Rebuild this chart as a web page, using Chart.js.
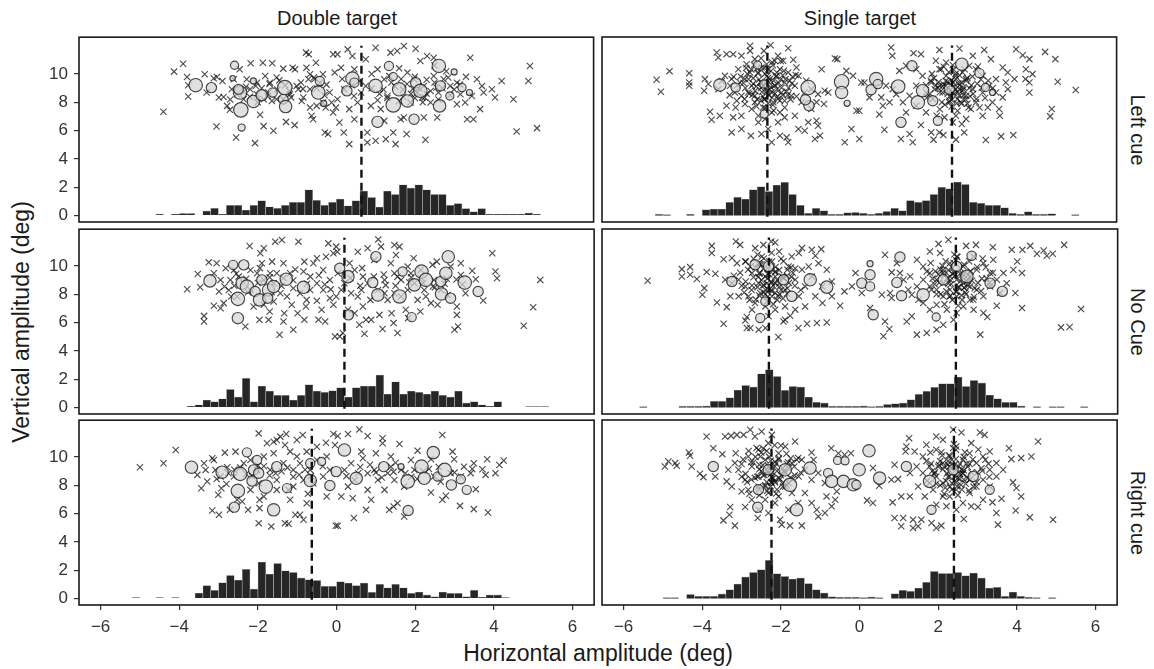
<!DOCTYPE html>
<html>
<head>
<meta charset="utf-8">
<script src="https://cdn.jsdelivr.net/npm/chart.js@4.4.0/dist/chart.umd.min.js"></script>
<style>
  html, body { margin: 0; padding: 0; background: #fff; }
  body { width: 1154px; height: 669px; position: relative; overflow: hidden;
         font-family: "Liberation Sans", Arial, Helvetica, sans-serif; color: #1a1a1a; }
  canvas { position: absolute; }
  .lab { position: absolute; white-space: nowrap; transform: translate(-50%, -50%); }
  .strip { font-size: 20px; }
  .axt { font-size: 23px; }
  .cw { transform: translate(-50%, -50%) rotate(90deg); }
  .ccw { transform: translate(-50%, -50%) rotate(-90deg); }
</style>
</head>
<body>

<div class="lab strip" style="left:337px; top:18px;">Double target</div>
<div class="lab strip" style="left:860px; top:18px;">Single target</div>
<div class="lab strip cw" style="left:1137px; top:130px;">Left cue</div>
<div class="lab strip cw" style="left:1137px; top:322px;">No Cue</div>
<div class="lab strip cw" style="left:1137px; top:513px;">Right cue</div>
<div class="lab axt ccw" style="left:21px; top:322px;">Vertical amplitude (deg)</div>
<div class="lab axt" style="left:598px; top:653px;">Horizontal amplitude (deg)</div>

<script>
// ---- axis ticks ----
const xTickVals = [-6, -4, -2, 0, 2, 4, 6];
const yTickVals = [0, 2, 4, 6, 8, 10];

// ---- histogram counts (scaled), 0.2-deg bins starting at -6 ----
const HIST_START = -6, BIN = 0.2;
const histDoubleLeft = [0,0,0,0,0,0,0,.1,0,.1, .16,.16,0,.33,.52,.1,.73,.73,.4,.73,
  1.06,.63,.52,.73,.94,.94,1.83,1.08,.73,.94, 1.17,.7,1.06,1.74,1.29,.61,1.74,1.5,2.18,1.95,
  2.18,1.83,1.5,1.5,.73,.85,.5,.28,.5,.1, .1,.1,.1,.1,.19,.1,0,0,0,0];
const histSingleLeft = [0,0,0,0,.1,.08,0,0,.1,0, .42,.47,.47,.94,1.29,1.17,1.83,2.04,1.71,2.16,
  2.35,1.5,.73,.16,.52,.35,.1,.1,.21,.23, .16,.1,.16,.3,.52,.35,1.06,.94,1.06,1.5,
  2.0,1.9,2.37,2.2,.94,.87,.73,.73,.56,.16, .1,.28,.1,.1,.14,0,0,.08,0,0];
const histDoubleNone = [0,0,0,0,0,0,0,0,0,0, 0,.1,.2,.54,.42,.63,1.29,.75,2.07,.42,
  1.53,1.17,.87,.87,.54,.87,1.62,1.17,1.08,1.2, 1.41,.75,1.41,1.53,1.53,2.3,.96,1.83,.96,1.17,
  1.08,.96,1.17,.87,.75,1.17,.33,.42,.2,.1, .42,0,0,0,.08,.08,.08,0,0,0];
const histSingleNone = [0,0,.08,0,0,0,0,.1,.1,.1, .12,.45,.45,.7,1.24,1.57,1.46,2.39,2.68,2.2,
  1.22,1.5,1.46,.75,.38,.33,.1,.1,.1,.1, .12,.08,.1,.23,.28,.33,.56,.94,1.15,1.43,
  1.69,1.69,2.16,1.5,1.92,1.74,.89,.63,.38,.38, .12,0,.08,0,.08,.08,0,0,.08,0];
const histDoubleRight = [0,0,0,0,.08,0,0,.08,0,.08, 0,0,.4,.92,.59,1.13,1.64,1.31,2.07,.68,
  2.58,1.74,2.49,1.97,1.85,1.46,1.34,1.29,.87,.87, 1.2,1.1,.92,1.1,.45,1.01,.77,1.01,.77,.38,
  .47,.26,.14,.47,.38,.38,.14,.59,.1,.26, .26,.08,0,0,0,0,0,0,0,0];
const histSingleRight = [0,0,0,0,0,.08,.08,0,.3,.16, .16,.16,.33,.63,1.03,1.53,1.85,2.04,2.7,1.76,
  1.57,1.38,1.46,1.06,.63,.4,.14,.1,.1,.1, .08,.12,.08,0,.35,.59,.52,.75,1.15,1.92,
  1.78,1.78,1.85,1.62,1.81,1.46,.75,.8,.16,.47, .16,.1,.08,0,.08,0,0,0,0,0];

// ---- target positions (dashed markers) ----
const markDoubleLeft = [0.64];
const markSingleLeft = [-2.34, 2.36];
const markDoubleNone = [0.2];
const markSingleNone = [-2.31, 2.44];
const markDoubleRight = [-0.63];
const markSingleRight = [-2.24, 2.4];

// ---- individual saccade endpoints [x, y] ----
const crossDoubleLeft = [[-4.40,7.33],[-4.13,10.17],[-3.90,10.73],[-3.80,9.79],[-3.77,9.21],[-3.77,8.41],[-3.35,9.98],[-3.12,9.70],[-3.04,9.79],[-3.05,6.29],[-2.99,8.34],[-2.87,8.38],[-2.78,7.75],[-2.71,7.47],[-2.55,5.52],[-2.46,10.33],[-2.18,10.76],[-1.87,10.8],[-1.63,10.76],[-1.94,7.12],[-2.07,5.12],[-1.85,6.32],[-1.60,5.99],[-1.28,6.62],[-1.06,6.39],[-1.35,10.38],[-1.11,10.45],[-1.05,10.33],[-0.77,11.51],[-0.70,11.39],[-0.52,10.8],[-0.76,10.45],[-0.67,9.98],[-0.57,9.75],[-0.34,9.98],[-0.08,11.39],[-0.04,10.1],[-1.81,9.86],[-1.69,9.39],[-1.52,9.75],[-1.64,8.10],[-1.52,8.22],[-1.01,9.16],[-0.97,8.92],[-0.84,8.34],[-0.88,8.1],[-0.67,7.63],[-0.63,7.05],[-0.59,6.81],[-0.50,7.75],[-0.29,5.87],[-0.21,5.76],[-0.27,7.63],[-0.12,7.99],[-0.08,7.28],[-2.61,9.63],[-2.66,8.92],[-2.53,8.57],[-2.36,8.22],[-2.19,8.92],[-2.02,8.57],[-1.85,8.22],[-1.73,8.69],[-2.02,9.39],[-2.28,9.63],[-1.35,8.22],[-1.18,8.57],[-0.67,8.92],[-0.42,9.39],[-0.17,8.69],[-0.71,9.63],[-0.34,7.99],
  [0.29,11.74],[0.03,11.39],[0.41,11.27],[0.46,10.33],[0.12,10.45],[0.03,8.22],[0.08,6.58],[0.19,5.87],[0.33,5.05],[0.46,6.81],[0.33,7.52],[0.75,11.04],[1.0,11.86],[0.79,5.87],[0.79,5.17],[1.0,5.29],[1.26,5.40],[1.51,5.05],[1.45,5.87],[1.79,5.76],[2.27,5.36],[1.38,11.51],[1.55,11.63],[1.72,11.98],[2.02,11.79],[2.14,10.92],[2.31,11.27],[2.48,11.15],[3.41,11.15],[3.58,9.63],[3.71,9.16],[3.96,8.92],[4.21,9.51],[4.04,8.34],[3.75,8.69],[3.66,7.52],[3.33,6.81],[3.49,6.81],[3.28,7.99],[3.07,7.87],[4.51,8.22],[4.93,10.57],[4.89,9.51],[4.59,5.94],[5.11,6.18],[0.88,7.75],[1.13,7.52],[1.30,8.45],[1.64,6.81],[1.72,6.93],[2.23,6.93],[2.57,6.93],[1.98,9.63],[1.81,10.1],[2.06,8.69],[2.23,9.16],[2.40,7.99],[2.73,9.63],[2.90,9.16],[3.07,9.39],[3.16,8.57],[2.48,9.86],[1.22,9.63],[1.05,10.33],[0.63,8.69],[0.54,7.99],[0.20,8.92],[-0.01,7.63],[1.6,8.1],[1.89,7.99],[2.19,8.34],[1.22,6.69],
  [0.6,9.5],[0.9,9.0],[1.4,9.4],[1.7,8.9],[2.0,8.3],[2.3,8.6],[2.6,8.2],[2.9,8.5],[1.1,8.6],[0.4,9.2],[2.5,10.6],[2.8,10.2],[1.6,10.4],[0.9,10.0],[3.3,9.8],[-0.3,8.5],[-1.3,9.2],[-2.3,9.1],[-2.9,9.5],[-3.3,8.7],
  [1.2,8.9],[1.5,9.1],[1.8,9.3],[2.1,9.0],[2.4,8.8],[2.7,9.0],[1.9,8.6],[2.2,8.0],[2.5,9.4],[1.3,8.3],[2.0,9.8],[2.6,8.7],[3.0,8.9],[1.7,8.4],[2.3,9.6],[-2.5,8.7],[-2.2,8.4],[-1.9,9.0],[-1.5,8.9],[-1.2,8.8],[-2.7,8.2],[-2.0,8.0],[-1.7,9.3],[-0.9,9.4],[-0.5,9.0],
  [-2.35,8.75],[-2.05,9.15],[-1.75,8.45],[-1.45,9.55],[-1.15,8.35],[-0.85,8.95],[-0.55,9.65],[-0.25,9.25],[0.15,9.65],[0.45,8.45],[0.75,9.15],[1.05,8.15],[1.35,9.85],[1.65,9.65],[1.95,8.95],[2.25,8.35],[2.55,9.05],[2.85,9.75],[3.15,9.25],[3.45,8.45]];

const crossSingleLeft = [[-5.16,9.58],[-5.05,8.74],[-4.83,10.19],[-4.33,10.05],[-4.33,9.39],[-4.33,9.16],[-3.93,9.63],[-3.95,8.81],[-3.84,9.28],[-3.80,7.33],[-3.76,6.76],[-3.63,11.51],[-3.59,11.15],[-3.55,7.05],[-3.38,11.39],[-3.21,11.39],[-3.38,7.75],[-3.25,5.87],[-3.21,6.93],[-3.15,7.63],[-3.0,11.27],[-3.0,6.11],[-2.78,11.98],[-2.78,11.62],[-2.76,5.64],[-2.57,6.58],[-2.49,5.76],[-2.43,11.62],[-2.26,12.02],[-2.23,5.17],[-2.02,5.64],[-1.94,10.92],[-1.85,5.52],[-1.81,5.17],[-1.81,11.81],[-1.68,10.99],[-1.55,6.11],[-1.39,5.99],[-1.30,6.58],[-1.09,6.69],[-1.05,6.34],[-1.0,5.64],[-1.13,5.40],[-0.96,10.33],[-0.88,8.81],[-0.79,8.69],[-0.62,11.08],[-0.56,11.04],[-0.37,5.17],[-0.33,10.21],[-0.20,6.11],[-0.16,9.86],[-0.07,7.40],[-0.9,7.87],[-1.09,7.99],[-1.22,7.52],[-1.9,7.63],[-2.07,8.22],[-2.23,7.28],[-2.74,7.52],[-3.0,7.05],[-3.25,9.63],[-3.08,10.33],[-2.91,9.63],[-2.74,9.16],[-2.66,8.45],[-2.57,10.1],[-2.49,9.39],[-2.40,8.22],[-2.36,8.92],[-2.32,10.33],[-2.28,9.63],[-2.23,8.69],[-2.15,9.16],[-2.11,9.86],[-2.02,10.33],[-1.98,8.69],[-1.9,9.39],[-1.81,10.1],[-1.73,8.45],[-1.64,9.16],[-1.55,9.86],[-1.47,7.99],[-1.39,8.69],[-2.83,8.69],[-3.0,8.45],[-3.17,8.69],[-3.29,9.16],[-3.42,9.86],[-3.59,8.92],[-2.87,10.68],[-2.66,11.04],[-2.07,11.27],[-2.57,7.05],[-2.4,6.81],[-2.32,6.11],[-2.07,6.58],[-1.9,6.93],[-1.64,7.05],[-2.02,7.28],[-2.45,7.63],[-2.66,7.99],[-2.91,7.87],[-3.12,8.1],[-2.19,7.99],[-2.36,10.68],[-2.15,10.92],[-2.49,10.45],[-2.78,10.1],[-3.04,9.39],[-1.77,9.51],[-1.60,10.45],[-1.35,9.51],[-1.22,8.92],[-1.05,8.57],
  [-2.9,9.0],[-2.7,9.7],[-2.6,8.2],[-2.5,9.0],[-2.4,10.0],[-2.3,9.4],[-2.3,8.5],[-2.2,10.6],[-2.1,8.9],[-2.0,9.6],[-1.9,8.1],[-1.8,9.0],[-1.7,9.8],[-2.4,7.6],[-2.2,7.8],[-2.6,10.4],[-2.8,8.6],[-3.1,9.2],[-1.6,8.4],[-2.0,10.9],[-2.5,11.1],[-2.35,8.8],[-2.15,9.2],[-1.95,8.5],[-2.7,9.3],[-2.45,8.4],[-2.25,10.2],[-3.3,8.5],[-3.5,9.5],[-2.85,10.0],
  [-2.55,9.6],[-2.45,9.15],[-2.35,9.85],[-2.25,9.05],[-2.15,8.6],[-2.05,9.35],[-1.95,9.9],[-1.85,8.75],[-2.65,8.8],[-2.75,10.3],[-2.5,8.1],[-2.1,10.1],[-1.75,8.2],[-2.95,9.35],[-3.2,9.8],
  [-2.62,9.12],[-2.48,8.72],[-2.38,9.32],[-2.28,8.92],[-2.18,9.52],[-2.08,8.42],[-1.98,9.02],[-1.88,9.62],[-2.72,8.52],[-2.58,10.02],[-2.42,8.22],[-2.32,9.72],[-2.22,8.32],[-2.12,9.82],[-2.02,8.12],[-1.92,10.22],[-2.52,9.42],[-2.42,10.42],[-2.32,7.92],[-2.22,10.82],[-2.82,9.62],[-2.92,8.22],[-1.82,8.52],[-1.72,9.32],[-2.62,7.72],[-2.18,7.42],[-2.68,10.62],[-1.62,9.92],[-3.02,9.82],[-2.88,10.42],
  [0.05,9.39],[0.0,7.40],[0.0,5.40],[0.13,9.39],[0.26,8.34],[0.81,11.86],[0.84,11.27],[1.38,11.46],[1.57,11.39],[2.04,11.69],[2.55,11.79],[2.89,11.27],[3.18,11.69],[3.35,11.04],[3.65,10.45],[3.78,10.1],[3.95,9.63],[3.99,11.74],[4.16,11.32],[4.33,11.04],[4.24,10.33],[4.41,9.98],[4.23,9.63],[4.33,9.39],[4.33,8.69],[4.73,11.55],[4.99,11.04],[5.05,9.44],[5.51,8.86],[4.90,7.52],[4.86,7.0],[3.92,5.68],[3.61,5.59],[3.22,5.33],[3.58,7.05],[0.51,7.14],[0.60,7.75],[0.64,6.06],[1.06,5.40],[1.28,5.76],[1.36,5.17],[1.57,6.39],[1.83,5.87],[1.89,5.36],[2.04,5.87],[2.14,5.68],[2.46,5.36],[2.67,5.87],[2.61,6.46],[2.38,6.58],[2.17,6.93],[1.97,7.05],[2.46,7.05],[2.72,6.81],[2.84,7.52],[3.06,7.63],[3.27,7.63],[3.39,7.99],[3.56,7.52],[3.65,8.34],[3.78,8.92],[3.48,8.69],[3.31,9.16],[3.14,9.86],[2.97,10.33],[2.80,10.57],[2.72,9.63],[2.55,8.92],[2.38,9.39],[2.21,9.86],[2.04,10.33],[1.95,10.92],[2.21,10.8],[1.83,9.39],[1.70,8.69],[1.87,8.22],[2.12,8.69],[2.29,7.99],[2.50,8.22],[2.72,8.45],[2.89,8.92],[2.97,7.99],[3.14,8.69],[2.04,9.16],[2.21,9.16],[2.38,8.69],[2.46,9.63],[2.63,10.1],[1.61,9.86],[1.45,9.16],[1.28,8.45],[1.11,7.99],[0.94,8.57],[1.02,10.21],[1.19,10.57],[1.45,10.33],[0.85,8.92],[0.68,9.16],[0.56,8.34],[0.77,7.99],[1.19,7.28],[1.45,7.75],[1.70,7.28],[3.14,7.05],[3.48,9.63],[3.73,9.39],
  [2.0,9.0],[2.2,9.5],[2.3,8.4],[2.4,9.1],[2.5,8.7],[2.6,9.4],[2.7,8.2],[2.8,9.0],[2.1,8.0],[1.9,9.7],[2.45,10.0],[2.35,7.7],[2.55,9.9],[2.9,8.6],[3.0,9.3],[1.8,8.6],[2.65,8.9],[2.25,9.0],[2.15,10.5],[3.2,8.3],[2.5,7.4],[2.75,7.9],[1.7,9.2],[2.05,7.5],[3.4,9.0],
  [2.15,9.25],[2.25,8.6],[2.35,9.55],[2.45,8.9],[2.55,9.2],[2.65,8.5],[2.75,9.7],[2.85,9.2],[2.05,8.7],[1.95,9.2],[2.4,10.3],[2.6,7.9],[3.1,9.6],[1.85,10.0],[2.3,8.1],
  [2.12,9.12],[2.22,8.82],[2.32,9.22],[2.42,8.62],[2.52,9.32],[2.62,8.82],[2.72,9.52],[2.82,8.42],[2.02,9.42],[1.92,8.92],[2.28,10.12],[2.48,7.92],[2.68,10.32],[2.88,9.82],[2.98,8.22],[3.12,9.02],[2.18,7.82],[2.38,10.62],[1.82,9.52],[2.58,8.02],[3.28,9.52],[2.78,7.62],[2.08,10.32],[1.72,8.32],[3.02,10.52],[2.45,9.85],[2.55,8.45],[2.35,8.15],[2.65,9.05],[2.25,9.45]];

const crossDoubleNone = [[-3.80,8.36],[-3.53,9.44],[-3.47,8.50],[-3.37,6.48],[-3.37,6.08],[-3.25,10.26],[-3.05,10.19],[-3.12,7.19],[-2.95,7.02],[-2.87,7.38],[-2.99,8.20],[-2.82,9.84],[-2.74,8.31],[-2.70,9.02],[-2.68,7.85],[-2.32,5.73],[-2.21,11.41],[-1.96,6.2],[-1.94,10.9],[-1.85,11.25],[-1.73,6.2],[-1.70,6.79],[-1.64,10.31],[-1.9,10.19],[-1.56,11.72],[-1.39,11.84],[-1.45,5.15],[-1.35,6.08],[-1.33,6.67],[-1.35,10.19],[-1.10,5.50],[-0.97,11.72],[-0.99,6.67],[-0.82,6.20],[-0.82,10.31],[-0.78,7.14],[-0.76,7.61],[-0.50,7.54],[-0.46,6.2],[-0.38,6.91],[-0.29,6.08],[-0.27,10.66],[-0.21,11.6],[-0.08,10.9],[-0.04,5.03],[-0.17,7.73],[-0.08,7.26],[-0.59,10.19],[-0.5,10.55],[-0.34,9.72],[-0.67,9.25],[-0.84,9.61],[-1.18,9.49],[-1.52,9.49],[-1.60,8.78],[-1.43,8.08],[-1.26,7.85],[-1.10,8.43],[-0.93,8.08],[-0.67,8.31],[-0.5,8.78],[-0.34,8.31],[-0.17,9.02],[-2.11,7.14],[-1.85,7.26],[-1.6,7.49],[-2.19,9.72],[-2.02,9.49],[-2.49,9.25],[-2.61,9.72],[-2.36,8.78],[-2.19,8.31],[-2.53,7.85],[-2.95,9.02],[-3.12,9.49],[-1.85,9.02],[-1.69,9.49],[-1.14,7.26],
  [-0.01,11.37],[0.02,11.01],[-0.01,7.85],[0.08,5.03],[0.16,5.27],[0.33,10.19],[0.29,6.91],[0.46,6.67],[0.54,11.01],[0.54,7.85],[0.63,8.31],[0.67,7.14],[0.58,5.85],[0.71,5.22],[0.75,6.2],[0.79,11.25],[0.88,6.2],[0.86,7.61],[0.96,10.43],[1.06,11.88],[1.13,11.37],[1.09,6.55],[1.17,5.55],[1.22,9.02],[1.38,10.19],[1.40,6.67],[1.45,5.97],[1.47,11.48],[1.60,11.37],[1.51,10.78],[1.55,5.27],[1.76,6.91],[1.82,6.32],[1.96,10.55],[1.89,9.49],[2.06,7.61],[2.13,6.79],[2.27,7.85],[2.44,10.08],[2.55,10.31],[2.90,9.96],[3.16,10.19],[3.06,7.14],[3.06,6.55],[3.09,5.73],[3.0,5.5],[3.16,9.37],[3.28,8.08],[3.45,9.67],[3.54,9.07],[3.73,7.56],[3.96,10.9],[4.04,9.61],[4.08,9.14],[5.0,7.09],[4.76,5.78],[5.18,9.02],[1.98,8.78],[2.23,8.31],[2.48,9.02],[2.65,8.31],[2.40,7.38],[2.57,7.26],[2.82,7.96],[1.81,8.31],[1.64,7.85],[1.47,8.08],[1.30,7.61],[1.64,9.02],[1.47,9.49],[1.22,8.08],[0.79,8.78],[0.67,9.25],[0.46,9.72],[0.2,8.78],[0.12,8.31],[0.03,9.49],[0.37,8.08],[1.05,8.31],[1.81,9.96],[2.14,9.72],
  [-2.3,9.1],[-2.0,8.8],[-1.7,9.2],[-1.4,8.6],[-1.1,9.0],[-2.6,8.6],[1.5,8.6],[1.9,9.2],[2.2,8.8],[2.5,8.5],[2.8,9.1],[1.2,9.4],[0.6,8.6],[-0.3,8.7],[3.2,8.7],
  [-2.85,8.55],[-2.55,9.45],[-2.25,8.15],[-1.95,9.85],[-1.65,8.15],[-1.35,9.15],[-1.05,9.75],[-0.75,8.75],[-0.45,9.35],[-0.15,8.35],[0.35,9.15],[0.65,9.85],[0.95,9.25],[1.25,8.65],[1.55,9.25],[1.85,8.85],[2.15,9.15],[2.45,8.55],[2.75,8.75],[3.05,9.05]];

const crossSingleNone = [[-5.39,8.95],[-4.52,9.77],[-4.52,9.25],[-4.31,9.91],[-4.31,9.37],[-4.14,9.07],[-3.95,8.43],[-4.0,7.96],[-3.89,9.56],[-3.76,11.41],[-3.76,10.9],[-3.67,9.44],[-3.63,7.42],[-3.46,5.92],[-3.46,10.47],[-3.38,7.09],[-3.29,7.85],[-3.15,11.72],[-3.04,11.48],[-3.25,10.55],[-3.12,10.19],[-2.87,6.39],[-2.91,6.15],[-2.87,5.62],[-2.78,5.62],[-2.57,5.50],[-2.40,5.62],[-2.25,11.72],[-2.15,11.65],[-2.05,11.01],[-2.07,4.98],[-1.94,6.08],[-1.77,6.48],[-1.56,5.62],[-1.47,11.25],[-1.34,5.92],[-1.22,11.13],[-0.98,11.18],[-1.13,10.71],[-1.05,10.19],[-0.84,9.72],[-1.09,5.97],[-0.84,6.01],[-0.95,7.38],[-0.71,8.9],[-0.5,7.19],[-0.39,8.20],[-0.2,8.55],[-0.11,9.49],[-2.91,10.31],[-2.66,11.25],[-2.45,11.48],[-2.57,10.19],[-3.08,9.02],[-2.91,8.55],[-2.74,9.49],[-2.57,8.78],[-2.40,9.25],[-2.32,8.31],[-2.23,9.72],[-2.15,8.78],[-2.07,7.85],[-1.98,9.25],[-1.9,8.31],[-1.81,9.96],[-1.64,9.02],[-1.55,7.85],[-1.47,9.72],[-1.39,8.55],[-1.22,9.25],[-1.13,7.85],[-1.73,10.66],[-1.55,10.9],[-2.66,7.38],[-2.4,7.14],[-2.15,6.91],[-1.9,7.14],[-1.64,6.91],[-1.39,7.14],[-2.83,7.85],[-3.08,7.85],[-3.25,8.78],[-3.42,9.02],[-2.74,6.91],[-2.32,6.44],[-1.9,6.2],[-2.49,10.66],[-2.23,10.31],[-2.78,9.96],[-2.4,8.31],[-2.23,7.85],[-2.53,8.08],[-2.15,9.25],[-2.36,8.78],[-1.3,9.96],[-0.96,8.55],[-0.71,7.85],
  [-2.5,9.0],[-2.3,9.4],[-2.2,8.6],[-2.1,9.0],[-2.4,8.0],[-2.0,8.3],[-1.8,8.8],[-2.6,8.5],[-2.7,9.2],[-2.3,10.3],[-1.7,9.5],[-2.9,8.9],[-2.35,7.5],[-2.05,9.7],[-2.45,9.8],[-1.95,7.7],[-2.15,8.1],[-2.55,7.9],[-2.25,8.9],[-1.85,9.3],[-3.2,9.3],[-1.5,8.3],[-2.8,7.6],[-2.0,10.5],[-2.6,10.8],
  [-2.55,9.45],[-2.45,8.65],[-2.35,9.1],[-2.25,8.3],[-2.15,9.55],[-2.05,8.75],[-1.95,9.2],[-1.85,8.05],[-2.65,9.9],[-2.75,8.3],[-2.5,10.1],[-2.1,7.6],[-1.75,9.9],[-3.0,8.6],[-1.65,8.6],
  [-2.58,9.22],[-2.44,8.62],[-2.34,9.42],[-2.24,8.82],[-2.14,9.62],[-2.04,8.52],[-1.94,9.12],[-1.84,9.72],[-2.74,8.62],[-2.54,10.12],[-2.44,8.12],[-2.34,9.82],[-2.24,8.22],[-2.14,9.92],[-2.04,8.02],[-1.94,10.32],[-2.54,9.52],[-2.44,10.52],[-2.34,7.82],[-2.24,10.92],[-2.84,9.72],[-2.94,8.12],[-1.84,8.42],[-1.74,9.22],[-2.64,7.62],[-2.2,7.3],[-2.7,10.5],[-1.64,9.82],[-3.04,9.52],[-2.9,10.3],
  [0.64,10.78],[0.81,9.54],[0.77,8.08],[0.81,7.73],[0.56,7.96],[0.05,8.08],[0.26,7.02],[0.64,6.08],[0.75,5.55],[0.6,5.03],[1.19,6.08],[1.32,6.44],[1.45,5.15],[1.70,5.27],[2.0,11.55],[2.25,11.84],[1.78,11.01],[2.70,11.41],[2.95,11.48],[3.38,11.32],[3.86,11.13],[4.13,11.13],[4.33,11.41],[4.50,10.85],[4.67,11.08],[4.75,10.71],[4.9,10.85],[5.19,11.48],[4.0,10.31],[3.9,9.72],[4.12,9.49],[3.95,8.08],[4.12,7.02],[5.62,6.95],[5.11,5.66],[5.33,5.69],[3.06,5.15],[3.24,6.39],[3.14,6.67],[3.48,7.19],[3.56,8.08],[2.38,6.2],[2.12,5.85],[1.95,5.5],[1.78,6.91],[1.61,7.38],[1.49,7.61],[1.32,7.96],[1.45,10.43],[1.61,9.96],[1.78,9.49],[1.95,9.02],[2.12,9.72],[2.29,10.19],[2.46,10.66],[2.63,9.96],[2.8,9.25],[2.97,9.72],[3.14,10.19],[3.31,9.49],[3.48,9.02],[3.65,9.49],[3.73,8.78],[3.31,8.55],[3.14,7.85],[2.97,8.31],[2.8,7.61],[2.63,7.14],[2.46,7.85],[2.29,8.31],[2.12,7.85],[1.95,8.31],[1.78,8.55],[1.61,9.02],[1.45,8.55],[1.28,9.25],[1.11,9.02],[0.94,10.19],[2.46,9.02],[2.29,9.25],[2.63,8.78],[2.8,8.55],[2.12,8.78],[2.46,6.67],[2.89,6.91],[2.21,6.91],[1.95,7.26],[1.23,8.31],[1.02,9.49],[2.04,10.9],[2.89,10.66],[3.39,10.43],
  [2.3,9.0],[2.4,9.5],[2.5,8.5],[2.6,9.2],[2.2,8.2],[2.0,9.4],[2.7,8.0],[2.8,9.6],[2.1,10.0],[2.45,10.4],[3.0,8.8],[1.9,8.7],[2.35,7.6],[2.65,10.1],[2.55,8.9],[2.25,9.7],[3.1,9.1],[1.7,9.6],[2.9,7.8],[2.15,7.3],[2.75,8.6],[3.3,8.8],[1.8,10.2],[2.05,8.0],[2.5,7.2],
  [2.15,9.3],[2.25,8.75],[2.35,9.85],[2.45,8.2],[2.55,9.45],[2.65,8.45],[2.75,9.35],[2.85,8.95],[2.05,9.75],[1.95,8.0],[2.4,10.8],[2.6,7.6],[3.2,9.9],[1.85,9.1],[2.3,7.9],
  [2.22,9.12],[2.32,8.72],[2.42,9.32],[2.52,8.52],[2.62,9.42],[2.72,8.92],[2.82,9.62],[2.92,8.42],[2.12,9.52],[2.02,8.82],[2.38,10.22],[2.58,7.92],[2.78,10.32],[2.98,9.92],[3.08,8.22],[3.22,9.12],[2.28,7.82],[2.48,10.62],[1.92,9.62],[2.68,8.12],[3.38,9.52],[2.88,7.62],[2.18,10.32],[1.82,8.32],[3.12,10.52],[2.55,9.85],[2.65,8.45],[2.45,8.15],[2.75,9.05],[2.35,9.45]];

const crossDoubleRight = [[-5.0,9.28],[-4.40,9.56],[-4.09,10.50],[-3.54,8.74],[-3.44,7.80],[-3.37,9.56],[-3.33,9.09],[-3.29,8.27],[-3.16,9.91],[-3.16,6.22],[-2.99,5.92],[-3.01,7.33],[-2.93,7.80],[-2.84,10.31],[-2.71,6.27],[-2.57,10.38],[-2.40,6.86],[-2.25,6.27],[-1.98,11.67],[-1.96,6.98],[-1.96,6.39],[-1.98,5.33],[-1.77,10.97],[-1.66,5.10],[-1.6,11.08],[-1.52,11.2],[-1.43,11.44],[-1.31,5.33],[-1.22,5.29],[-1.28,11.62],[-1.18,10.38],[-1.31,10.85],[-1.05,5.92],[-0.93,5.92],[-0.84,5.57],[-1.01,11.2],[-0.86,11.55],[-0.76,10.38],[-0.73,7.4],[-0.76,6.74],[-0.5,10.73],[-0.27,11.01],[-0.08,11.62],[-0.04,10.85],[-0.25,7.21],[-0.02,5.15],[-1.18,6.98],[-1.22,7.68],[-1.52,7.68],[-1.85,7.21],[-2.19,7.68],[-2.53,6.98],[-2.95,8.62],[-2.78,9.28],[-2.61,8.62],[-2.19,9.79],[-2.02,9.09],[-1.85,10.03],[-1.69,9.09],[-1.52,8.38],[-1.35,9.56],[-1.1,9.09],[-0.93,9.56],[-0.67,9.09],[-0.5,9.79],[-0.34,8.62],[-0.17,9.09],[-0.25,10.03],[-0.59,8.15],[-0.84,8.38],[-1.1,7.91],[-2.36,9.56],[-3.12,9.79],[-3.08,9.09],[-1.98,8.15],[-1.6,10.26],[-1.01,10.03],
  [0.03,11.48],[0.29,11.62],[0.58,11.95],[0.79,11.48],[0.03,5.15],[0.44,5.69],[0.75,6.27],[0.88,6.98],[0.63,10.38],[0.67,9.91],[1.0,10.26],[1.17,11.32],[1.17,10.97],[1.38,10.03],[1.6,10.92],[1.34,6.27],[1.45,6.51],[1.55,6.74],[1.72,5.80],[2.06,10.45],[2.40,7.49],[2.69,11.55],[2.69,6.98],[2.78,7.26],[2.95,10.38],[2.99,9.84],[3.14,6.55],[3.24,9.32],[3.49,6.32],[3.49,9.56],[3.54,7.73],[3.71,9.14],[3.83,9.84],[3.85,6.08],[4.04,8.86],[4.14,9.44],[4.25,9.75],[3.79,8.74],[3.41,8.86],[2.4,9.84],[1.89,9.79],[1.72,7.91],[1.22,7.68],[1.05,8.38],[0.79,8.86],[0.46,8.38],[0.29,7.91],[0.12,7.21],[0.41,7.09],[0.2,9.09],[0.37,9.56],[0.96,9.09],[1.3,8.86],[1.47,8.38],[1.64,9.09],[1.98,9.09],[1.38,9.32],[0.79,7.68],[2.9,8.86],[3.16,8.62],[2.48,8.62],
  [-2.6,9.1],[-2.3,8.8],[-2.0,9.4],[-1.7,8.7],[-1.4,9.0],[-1.1,8.6],[-2.8,8.1],[-0.8,9.1],[0.6,9.3],[1.0,8.9],[1.5,9.6],[1.9,8.6],[2.2,9.0],[2.6,9.3],[3.0,8.9],
  [-3.05,8.45],[-2.75,8.85],[-2.45,9.25],[-2.15,8.65],[-1.85,9.35],[-1.55,8.85],[-1.25,9.25],[-0.95,8.75],[-0.65,8.65],[-0.35,9.35],[0.25,8.65],[0.55,8.85],[0.85,9.45],[1.15,8.55],[1.45,8.95],[1.75,8.85],[2.05,8.45],[2.35,9.15],[2.65,8.25],[3.45,9.15]];

const crossSingleRight = [[-4.95,9.32],[-4.86,9.68],[-4.69,9.56],[-4.65,9.37],[-4.34,10.31],[-4.31,10.08],[-4.27,9.32],[-4.06,8.81],[-3.97,8.57],[-3.89,11.44],[-3.72,10.61],[-3.67,8.62],[-3.49,10.19],[-3.46,5.52],[-3.38,8.27],[-3.42,11.44],[-3.31,5.92],[-3.29,6.46],[-3.27,11.48],[-3.17,5.15],[-3.15,10.26],[-3.12,11.55],[-2.95,11.55],[-2.91,6.46],[-3.0,7.56],[-2.78,11.91],[-2.66,11.44],[-2.59,5.69],[-2.49,11.79],[-2.23,11.55],[-1.98,5.22],[-1.77,5.15],[-1.47,5.15],[-1.64,11.08],[-1.47,9.79],[-1.22,10.31],[-1.17,9.79],[-1.05,5.8],[-1.09,6.27],[-0.88,6.04],[-0.84,7.21],[-0.71,6.51],[-0.62,6.98],[-0.58,7.56],[-0.72,10.61],[-0.54,10.26],[-0.38,10.15],[-0.22,10.26],[-1.22,6.74],[-1.39,7.45],[-1.56,6.74],[-1.81,6.27],[-2.02,5.57],[-2.32,6.04],[-2.57,6.27],[-2.74,6.98],[-2.4,6.98],[-2.06,7.21],[-1.72,7.45],[-3.08,9.09],[-2.91,8.38],[-2.74,9.32],[-2.57,8.62],[-2.4,9.79],[-2.32,8.86],[-2.23,8.15],[-2.15,9.32],[-2.06,10.26],[-1.89,8.86],[-1.81,8.15],[-1.72,9.56],[-1.55,8.62],[-1.39,9.09],[-1.22,8.38],[-1.05,8.86],[-0.88,8.15],[-2.83,10.03],[-2.57,10.5],[-2.32,10.97],[-1.89,10.73],[-2.57,7.91],[-2.83,7.68],[-3.25,7.91],[-3.34,9.09],[-3.17,9.56],[-2.32,7.45],[-1.89,7.91],[-2.15,6.74],[-2.4,7.91],[-2.23,8.62],
  [-2.5,9.0],[-2.3,9.3],[-2.2,8.5],[-2.1,9.0],[-2.4,8.0],[-2.0,8.7],[-1.8,9.2],[-2.6,8.6],[-2.7,9.6],[-2.3,10.0],[-1.7,8.4],[-2.9,8.8],[-2.35,7.6],[-2.05,9.9],[-2.45,10.6],[-1.95,7.9],[-2.15,8.2],[-2.55,7.3],[-2.25,8.8],[-1.85,9.5],[-3.0,9.5],[-1.5,8.9],[-2.8,7.4],[-2.0,10.8],[-1.6,9.8],
  [-2.55,9.45],[-2.45,8.7],[-2.35,9.0],[-2.25,8.2],[-2.15,9.65],[-2.05,8.5],[-1.95,9.2],[-1.85,8.0],[-2.65,10.0],[-2.75,8.4],[-2.5,10.3],[-2.1,7.7],[-1.75,9.9],[-3.0,8.6],[-1.65,8.7],
  [-2.55,9.12],[-2.42,8.72],[-2.32,9.32],[-2.22,8.92],[-2.12,9.52],[-2.02,8.42],[-1.92,9.02],[-1.82,9.62],[-2.66,8.52],[-2.52,10.02],[-2.36,8.22],[-2.26,9.72],[-2.16,8.32],[-2.06,9.82],[-1.96,8.12],[-1.86,10.22],[-2.46,9.42],[-2.36,10.42],[-2.26,7.92],[-2.16,10.82],[-2.76,9.62],[-2.86,8.22],[-1.76,8.52],[-1.66,9.32],[-2.56,7.72],[-2.12,7.42],[-2.62,10.62],[-1.56,9.92],[-2.96,9.82],[-2.82,10.42],
  [0.19,6.93],[0.34,6.74],[0.34,9.21],[0.50,7.96],[0.84,6.79],[0.89,9.44],[0.81,8.38],[0.98,8.43],[0.89,5.69],[1.06,5.10],[1.11,5.69],[1.19,10.73],[1.17,10.38],[1.26,11.32],[1.40,10.38],[1.36,5.57],[1.36,4.98],[1.57,5.57],[1.49,5.10],[1.83,5.33],[1.95,4.98],[2.08,5.15],[2.21,6.51],[2.38,11.91],[2.59,11.72],[2.65,5.62],[2.84,10.97],[3.06,11.72],[3.18,11.55],[3.31,10.38],[3.52,5.22],[3.48,6.04],[3.80,10.61],[3.86,9.84],[4.11,9.91],[4.37,10.03],[4.54,11.08],[3.90,8.2],[3.99,7.8],[3.97,6.22],[4.33,5.73],[4.92,5.57],[4.11,7.21],[3.61,7.05],[3.38,6.79],[3.14,6.98],[2.84,6.51],[3.01,6.46],[2.63,6.74],[2.46,6.27],[1.95,6.62],[1.66,7.21],[1.49,7.91],[1.28,7.21],[1.06,7.21],[1.61,10.03],[1.78,9.32],[1.95,10.5],[2.12,11.2],[2.29,10.03],[2.46,10.73],[2.63,9.79],[2.8,10.26],[2.97,9.56],[3.14,10.03],[3.31,9.09],[3.48,8.62],[3.65,9.09],[3.48,9.56],[3.14,8.38],[2.97,7.91],[2.8,8.38],[2.63,8.86],[2.46,9.09],[2.29,8.62],[2.12,8.15],[1.95,8.62],[1.78,8.15],[1.61,8.86],[1.45,9.32],[1.28,8.86],[2.12,9.56],[2.29,9.32],[2.46,7.68],[2.29,7.21],[2.12,7.21],[2.8,7.45],[3.31,7.91],[1.87,7.68],[1.95,11.44],[1.7,10.85],
  [2.3,9.0],[2.4,9.4],[2.5,8.5],[2.6,9.1],[2.2,8.3],[2.0,9.3],[2.7,8.1],[2.8,9.5],[2.1,10.1],[2.45,10.5],[3.0,8.9],[1.9,8.8],[2.35,7.7],[2.65,10.0],[2.55,8.8],[2.25,9.7],[3.1,9.2],[1.7,9.7],[2.9,7.9],[2.15,7.4],[2.75,8.5],[3.3,8.6],[1.8,10.3],[2.05,8.0],[2.5,7.3],
  [2.15,9.3],[2.25,8.6],[2.35,9.8],[2.45,8.2],[2.55,9.5],[2.65,8.4],[2.75,9.3],[2.85,8.9],[2.05,9.7],[1.95,8.1],[2.4,10.9],[2.6,7.7],[3.2,9.8],[1.85,9.0],[2.3,7.9],
  [2.12,9.12],[2.22,8.82],[2.32,9.22],[2.42,8.62],[2.52,9.32],[2.62,8.82],[2.72,9.52],[2.82,8.42],[2.02,9.42],[1.92,8.92],[2.28,10.12],[2.48,7.92],[2.68,10.32],[2.88,9.82],[2.98,8.22],[3.12,9.02],[2.18,7.82],[2.38,10.62],[1.82,9.52],[2.58,8.02],[3.28,9.52],[2.78,7.62],[2.08,10.32],[1.72,8.32],[3.02,10.52],[2.45,9.85],[2.55,8.45],[2.35,8.15],[2.65,9.05],[2.25,9.45]];

// ---- averaged endpoints [x, y, weight] ----
const circDoubleLeft = [[-3.58,9.21,4.5],[-3.18,9.04,3],[-2.59,10.62,2],[-2.64,9.70,0.7],[-2.43,7.47,5],[-2.41,6.22,1.5],[-2.45,8.69,4.5],[-2.49,8.92,2.8],[-2.11,8.06,4],[-2.11,9.51,1],[-1.90,8.5,3.5],[-1.62,8.69,2.5],[-1.31,9.04,5],[-1.35,8.22,2.8],[-1.29,7.70,4],[-0.46,8.69,4.5],[-0.42,9.51,2.5],[-0.32,7.92,1],
  [0.41,9.68,4.5],[0.46,9.39,2.5],[0.27,8.81,3],[1.0,9.16,4.5],[1.05,6.62,3.5],[1.45,7.82,5],[1.34,10.57,2.5],[1.45,9.82,2],[1.6,8.92,4.5],[1.81,8.10,4],[1.98,6.81,3],[2.02,9.39,3],[2.14,8.81,4.5],[2.61,10.57,4.5],[2.63,7.75,4],[2.65,9.16,3],[2.89,8.45,2],[3.0,10.15,1],[3.20,9.04,2],[3.39,8.69,1]];
const circSingleLeft = [[-3.55,9.21,4],[-3.15,9.04,2.5],[-2.59,10.62,2],[-2.43,9.28,2],[-2.42,7.16,2],[-1.30,9.04,5],[-1.28,7.75,3],[-1.37,8.17,3],[-0.45,9.44,5],[-0.45,8.69,4],[-0.31,7.92,1],
  [0.43,9.63,4.5],[0.30,8.88,3],[0.47,9.28,2.5],[0.99,9.11,4.5],[1.34,10.57,3],[1.49,7.99,4.5],[1.61,8.81,4],[1.87,8.1,3],[1.06,6.58,3],[2.0,6.69,2.5],[2.61,10.68,4],[3.06,10.05,2.5],[3.21,9.04,2],[3.39,8.69,1],[2.29,8.92,3]];
const circDoubleNone = [[-3.22,8.95,4],[-2.63,10.08,2.5],[-2.36,10.08,3],[-2.51,7.68,4.5],[-2.51,6.32,3.5],[-2.40,8.78,4],[-2.28,8.55,4.5],[-2.07,8.20,3],[-1.96,7.61,4],[-1.90,9.02,3],[-1.73,8.31,4],[-1.75,7.73,3],[-1.60,8.55,4],[-1.28,9.07,4],[-0.84,8.5,4],
  [0.29,9.25,4],[0.08,9.84,3],[0.30,6.55,3],[0.92,8.83,3],[1.0,10.66,3],[1.05,7.96,4],[1.6,7.85,4.5],[1.68,9.61,2.5],[1.91,6.39,2.5],[1.98,8.67,4],[2.16,9.61,4.5],[2.27,9.02,4.5],[2.65,8.9,3],[2.67,8.03,4],[2.78,9.49,4],[2.84,10.66,4],[2.9,7.73,3],[3.26,8.83,4.5],[3.6,8.2,3]];
const circSingleNone = [[-3.25,8.9,3],[-2.66,10.08,3],[-2.32,9.96,3],[-2.53,6.32,2.5],[-1.94,9.02,3],[-1.73,7.85,3],[-1.26,9.02,4],[-0.84,8.5,4],[-2.4,7.49,2.5],
  [0.26,10.15,1],[0.26,9.37,3],[0.05,8.78,3],[0.26,8.55,2.5],[1.02,10.62,3],[0.94,8.83,3],[1.06,7.89,3],[0.34,6.55,3],[1.61,7.96,4],[1.94,6.39,2],[2.84,10.71,2.5],[2.72,9.25,4],[3.31,8.78,3],[3.62,8.2,3],[2.12,9.02,3],[2.46,9.96,3]];
const circDoubleRight = [[-3.69,9.28,4],[-2.91,8.93,4],[-2.51,7.61,4.5],[-2.6,6.46,3],[-2.45,8.81,4.5],[-2.28,10.33,2.5],[-2.11,9.09,3],[-2.15,8.3,3],[-1.98,8.86,3],[-1.80,7.91,4.5],[-1.6,6.27,4],[-2.02,9.79,2.5],[-1.26,7.8,2.5],[-1.52,9.32,3],[-0.67,8.34,4],[-0.38,9.68,2],[-0.17,7.99,3],[-0.67,9.56,2.5],
  [0.2,10.5,4],[-0.01,8.97,3],[0.5,8.5,4],[1.2,9.32,3],[1.64,9.32,1],[1.81,8.27,4.5],[1.82,6.22,3],[2.16,9.32,4.5],[2.23,8.5,4],[2.46,10.31,4],[2.57,8.62,2.5],[2.75,9.09,4.5],[2.92,8.03,3],[3.16,8.43,2.5],[3.31,7.68,2.5]];
const circSingleRight = [[-3.72,9.32,3],[-2.59,6.44,3],[-1.89,9.09,4],[-1.77,8.03,4.5],[-1.6,6.27,4],[-1.26,9.21,4],[-0.8,8.86,2.5],[-0.71,8.27,4],[-0.56,9.75,2],[-0.37,9.72,2],[-0.41,8.27,4],[-0.16,8.03,4],[-2.57,7.68,3],[-2.32,9.09,3],
  [0.24,10.43,4],[-0.01,9.09,4],[0.51,8.5,4],[-0.08,8.03,2.5],[1.19,9.32,3],[1.83,6.27,2.5],[1.78,8.27,4],[2.89,8.62,3],[3.31,7.68,2.5],[2.38,9.09,3]];

// ---- panel layout ----
const X_MIN = -6.55, X_MAX = 6.55, Y_MIN = -0.45, Y_MAX = 12.6;
const COL_LEFT = [79, 602], ROW_TOP = [37, 229, 420];
const PW = 517, PH = 185;
const PAD_L = 48, PAD_R = 6, PAD_T = 16, PAD_B = 42;
const FONT = '"Liberation Sans", Arial, Helvetica, sans-serif';

const panels = [
  { col: 0, row: 0, hist: histDoubleLeft,  cross: crossDoubleLeft,  circ: circDoubleLeft,  mark: markDoubleLeft },
  { col: 1, row: 0, hist: histSingleLeft,  cross: crossSingleLeft,  circ: circSingleLeft,  mark: markSingleLeft },
  { col: 0, row: 1, hist: histDoubleNone,  cross: crossDoubleNone,  circ: circDoubleNone,  mark: markDoubleNone },
  { col: 1, row: 1, hist: histSingleNone,  cross: crossSingleNone,  circ: circSingleNone,  mark: markSingleNone },
  { col: 0, row: 2, hist: histDoubleRight, cross: crossDoubleRight, circ: circDoubleRight, mark: markDoubleRight },
  { col: 1, row: 2, hist: histSingleRight, cross: crossSingleRight, circ: circSingleRight, mark: markSingleRight }
];

// panel frame drawn around the plotting area
const framePlugin = {
  id: 'frame',
  afterDraw(chart) {
    const { ctx, chartArea: a } = chart;
    ctx.save();
    ctx.strokeStyle = '#1a1a1a';
    ctx.lineWidth = 1.6;
    ctx.strokeRect(a.left, a.top, a.right - a.left, a.bottom - a.top);
    ctx.restore();
  }
};

const fmt = v => (v < 0 ? '\u2212' + Math.abs(v) : String(v));
const circleRadius = w => 2 + w * 1.05;

panels.forEach(p => {
  const showY = p.col === 0, showX = p.row === 2;
  const cv = document.createElement('canvas');
  cv.width = PW + PAD_L + PAD_R;
  cv.height = PH + PAD_T + PAD_B;
  cv.style.left = (COL_LEFT[p.col] - PAD_L) + 'px';
  cv.style.top = (ROW_TOP[p.row] - PAD_T) + 'px';
  document.body.appendChild(cv);

  // one dashed segment per target position
  const lineSets = p.mark.map(m => ({
    type: 'line', order: 1,
    data: [{ x: m, y: -1 }, { x: m, y: 12 }],
    borderColor: '#111', borderWidth: 2.4, borderDash: [8, 5], pointRadius: 0, fill: false
  }));

  const datasets = lineSets.concat([
    {
      type: 'bubble', order: 2,
      data: p.circ.map(c => ({ x: c[0], y: c[1], r: circleRadius(c[2]) })),
      backgroundColor: 'rgba(212,212,212,0.72)', borderColor: 'rgba(25,25,25,0.8)', borderWidth: 1.15
    },
    {
      type: 'scatter', order: 3,
      data: p.cross.map(c => ({ x: c[0], y: c[1] })),
      pointStyle: 'crossRot', pointRadius: 4.4, borderColor: 'rgba(10,10,10,0.72)',
      backgroundColor: 'rgba(0,0,0,0)', borderWidth: 1.15
    },
    {
      type: 'bar', order: 4,
      data: p.hist.map((h, i) => ({ x: HIST_START + BIN * (i + 0.5), y: h })),
      backgroundColor: '#262626', borderColor: 'rgba(185,185,185,0.9)', borderWidth: 0.6,
      barPercentage: 1, categoryPercentage: 1
    }
  ]);

  new Chart(cv, {
    type: 'bar',
    data: { datasets },
    plugins: [framePlugin],
    options: {
      responsive: false, animation: false, events: [],
      layout: { padding: { left: showY ? 0 : PAD_L, right: PAD_R, top: PAD_T, bottom: showX ? 0 : PAD_B } },
      plugins: { legend: { display: false }, tooltip: { enabled: false } },
      scales: {
        x: {
          type: 'linear', min: X_MIN, max: X_MAX, offset: false, display: showX,
          afterBuildTicks: s => { s.ticks = xTickVals.map(v => ({ value: v })); },
          afterFit: s => { if (showX) s.height = PAD_B; },
          grid: { display: true, offset: false, drawOnChartArea: false, drawTicks: true, tickLength: 5,
                  color: '#333', tickColor: '#333', lineWidth: 1.2 },
          border: { display: false },
          ticks: { font: { family: FONT, size: 17 }, color: '#333', padding: 7, maxRotation: 0,
                   autoSkip: false, callback: v => fmt(v) }
        },
        y: {
          type: 'linear', min: Y_MIN, max: Y_MAX, display: showY,
          afterBuildTicks: s => { s.ticks = yTickVals.map(v => ({ value: v })); },
          afterFit: s => { if (showY) s.width = PAD_L; },
          grid: { display: true, drawOnChartArea: false, drawTicks: true, tickLength: 5,
                  color: '#333', tickColor: '#333', lineWidth: 1.2 },
          border: { display: false },
          ticks: { font: { family: FONT, size: 17 }, color: '#333', padding: 6,
                   autoSkip: false, callback: v => fmt(v) }
        }
      }
    }
  });
});
</script>
</body>
</html>
